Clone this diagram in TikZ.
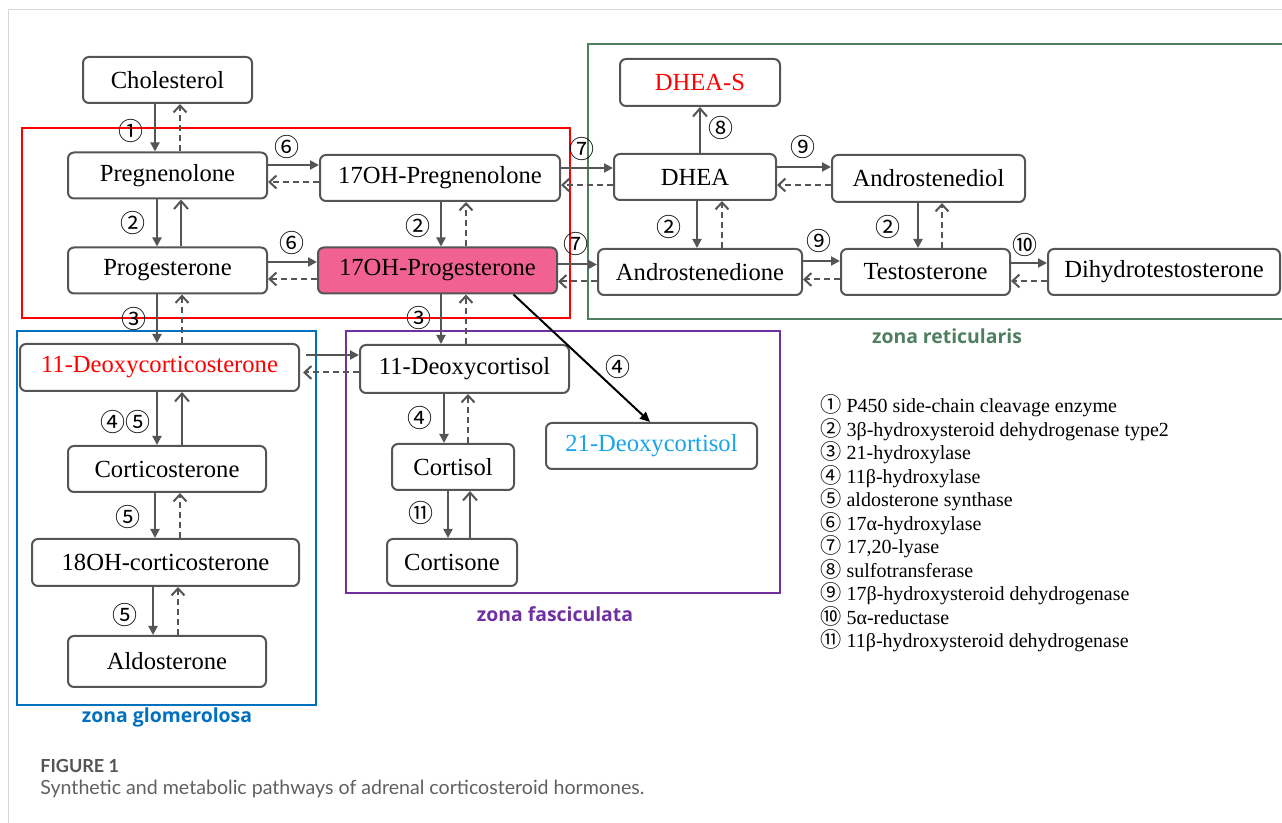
\documentclass[tikz,border=0pt]{standalone}
\usepackage{fontspec}
\setmainfont{Liberation Serif}
\newfontfamily\circfont{Noto Sans CJK KR}
\newfontfamily\capfont{Lato}
\newfontfamily\zonefont{Open Sans}
\usetikzlibrary{positioning,arrows.meta,calc}
\definecolor{boxgray}{RGB}{85,85,85}
\definecolor{arrgray}{RGB}{85,85,85}
\definecolor{pinkfill}{RGB}{241,98,146}
\definecolor{zgreen}{RGB}{78,127,94}
\definecolor{zblue}{RGB}{0,112,192}
\definecolor{zpurple}{RGB}{112,48,160}
\definecolor{dcyan}{RGB}{26,163,232}
\definecolor{capgray}{RGB}{96,96,96}
\definecolor{framegray}{RGB}{215,215,215}
\newcommand{\enzno}[1]{{\circfont\fontsize{10.6}{10}\selectfont #1}}
\tikzstyle{sbox}=[rectangle, rounded corners=3pt, draw=boxgray, line width=1pt, fill=white,
                  minimum height=23pt, inner sep=0pt, text centered, font=\fontsize{12.3}{14}\selectfont]
\tikzstyle{fwd}=[arrgray, line width=1pt, -{Triangle[length=4.5pt,width=4.5pt]}]
\tikzstyle{bck}=[arrgray, line width=1pt, dash pattern=on 3pt off 2pt, -{Straight Barb[length=3.5pt,width=6.5pt]}]
\tikzstyle{rev}=[arrgray, line width=1pt, -{Straight Barb[length=4pt,width=7pt]}]
\tikzstyle{diag}=[black, line width=1pt, -{Triangle[length=5pt,width=4.5pt]}]
\tikzstyle{enz}=[inner sep=0pt, font=\circfont\fontsize{12.5}{12.5}\selectfont]
\tikzstyle{zone}=[line width=1pt]
\tikzstyle{zlabel}=[inner sep=0pt, font=\zonefont\bfseries\fontsize{9.7}{11}\selectfont]
\begin{document}
\begin{tikzpicture}[x=0.5pt, y=-0.5pt]
\useasboundingbox (0,0) rectangle (1282,823);
\draw[framegray, line width=0.5pt] (8,830) -- (8,10) -- (1290,10);

% zones
\draw[red, zone] (22,128) rectangle (570,318);
\draw[zgreen, zone] (588,44) rectangle (1295,319);
\draw[zblue, zone] (17,331) rectangle (316,705);
\draw[zpurple, zone] (346,331) rectangle (780,593);
\node (zret) [zlabel, text=zgreen] at (947,336) {zona reticularis};
\node (zfas) [zlabel, text=zpurple] at (555,614) {zona fasciculata};
\node (zglo) [zlabel, text=zblue] at (167,717) {zona glomerolosa};

% steroids
\node (chol) [sbox, minimum width=84.5pt] at (167.5,80) {Cholesterol};
\node (preg) [sbox, minimum width=99.5pt] at (167.5,175.5) {Pregnenolone};
\node (ohpreg) [sbox, minimum width=120pt] at (440,178) {17OH-Pregnenolone};
\node (prog) [sbox, minimum width=99.5pt] at (167.5,270.5) {Progesterone};
\node (ohprog) [sbox, fill=pinkfill, minimum width=119.5pt] at (437.5,270.5) {17OH-Progesterone};
\node (doc) [sbox, text=red, minimum width=139.5pt, minimum height=23.5pt] at (159.5,367.5) {11-Deoxycorticosterone};
\node (cortico) [sbox, minimum width=99pt] at (167,469) {Corticosterone};
\node (ohcortico) [sbox, minimum width=133.5pt, minimum height=23.5pt] at (165.5,562.5) {18OH-corticosterone};
\node (aldo) [sbox, minimum width=99pt, minimum height=25.5pt] at (167,661.5) {Aldosterone};
\node (deoxycort) [sbox, minimum width=104.5pt, minimum height=24pt] at (464.5,369) {11-Deoxycortisol};
\node (cortisol) [sbox, minimum width=61pt] at (453,467) {Cortisol};
\node (cortisone) [sbox, minimum width=65pt, minimum height=23.5pt] at (452,562.5) {Cortisone};
\node (deoxy21) [sbox, text=dcyan, minimum width=105.5pt] at (651.5,446) {21-Deoxycortisol};
\node (dheas) [sbox, text=red, minimum width=80pt, minimum height=23.5pt] at (700,82.5) {DHEA-S};
\node (dhea) [sbox, minimum width=81pt] at (695,177) {DHEA};
\node (adiol) [sbox, minimum width=96.5pt, minimum height=23.5pt] at (928.5,178.5) {Androstenediol};
\node (adione) [sbox, minimum width=102pt] at (700,272) {Androstenedione};
\node (testo) [sbox, minimum width=84.5pt] at (925.5,272) {Testosterone};
\node (dht) [sbox, minimum width=116pt] at (1164,272) {Dihydrotestosterone};

% vertical steps
\draw[fwd] ([xshift=-6.25pt]chol.south) -- ([xshift=-6.25pt]chol.south |- preg.north);
\draw[bck] ([xshift=6.25pt]chol.south |- preg.north) -- ([xshift=6.25pt]chol.south);
\draw[fwd] ([xshift=-5.25pt]preg.south) -- ([xshift=-5.25pt]preg.south |- prog.north);
\draw[rev] ([xshift=6.75pt]preg.south |- prog.north) -- ([xshift=6.75pt]preg.south);
\draw[fwd] ([xshift=0.5pt]ohpreg.south) -- ([xshift=0.5pt]ohpreg.south |- ohprog.north);
\draw[bck] ([xshift=13pt]ohpreg.south |- ohprog.north) -- ([xshift=13pt]ohpreg.south);
\draw[fwd] ([xshift=-5.25pt]prog.south) -- ([xshift=-5.25pt]prog.south |- doc.north);
\draw[bck] ([xshift=7.25pt]prog.south |- doc.north) -- ([xshift=7.25pt]prog.south);
\draw[fwd] ([xshift=1.75pt]ohprog.south) -- ([xshift=1.75pt]ohprog.south |- deoxycort.north);
\draw[bck] ([xshift=14.25pt]ohprog.south |- deoxycort.north) -- ([xshift=14.25pt]ohprog.south);
\draw[rev] ([xshift=2.5pt]dhea.north) -- ([xshift=2.5pt]dhea.north |- dheas.south);
\draw[fwd] ([xshift=1pt]dhea.south) -- ([xshift=1pt]dhea.south |- adione.north);
\draw[bck] ([xshift=13.5pt]dhea.south |- adione.north) -- ([xshift=13.5pt]dhea.south);
\draw[fwd] ([xshift=-5.25pt]adiol.south) -- ([xshift=-5.25pt]adiol.south |- testo.north);
\draw[bck] ([xshift=6.75pt]adiol.south |- testo.north) -- ([xshift=6.75pt]adiol.south);
\draw[fwd] ([xshift=-1.25pt]doc.south) -- ([xshift=-1.25pt]doc.south |- cortico.north);
\draw[rev] ([xshift=11.25pt]doc.south |- cortico.north) -- ([xshift=11.25pt]doc.south);
\draw[fwd] ([xshift=-6pt]cortico.south) -- ([xshift=-6pt]cortico.south |- ohcortico.north);
\draw[bck] ([xshift=6.5pt]cortico.south |- ohcortico.north) -- ([xshift=6.5pt]cortico.south);
\draw[fwd] ([xshift=-6.25pt]ohcortico.south) -- ([xshift=-6.25pt]ohcortico.south |- aldo.north);
\draw[bck] ([xshift=6.25pt]ohcortico.south |- aldo.north) -- ([xshift=6.25pt]ohcortico.south);
\draw[fwd] ([xshift=-10.25pt]deoxycort.south) -- ([xshift=-10.25pt]deoxycort.south |- cortisol.north);
\draw[bck] ([xshift=1.75pt]deoxycort.south |- cortisol.north) -- ([xshift=1.75pt]deoxycort.south);
\draw[fwd] ([xshift=-2.5pt]cortisol.south) -- ([xshift=-2.5pt]cortisol.south |- cortisone.north);
\draw[rev] ([xshift=8.5pt]cortisol.south |- cortisone.north) -- ([xshift=8.5pt]cortisol.south);

% horizontal steps
\draw[fwd] ([yshift=5.25pt]preg.east) -- ([yshift=5.25pt]preg.east -| ohpreg.west);
\draw[bck] ([yshift=-3.25pt]preg.east -| ohpreg.west) -- ([yshift=-3.25pt]preg.east);
\draw[fwd] ([yshift=4.25pt]prog.east) -- ([yshift=4.25pt]prog.east -| ohprog.west);
\draw[bck] ([yshift=-4.25pt]prog.east -| ohprog.west) -- ([yshift=-4.25pt]prog.east);
\draw[fwd] ([yshift=5pt]ohpreg.east) -- ([yshift=5pt]ohpreg.east -| dhea.west);
\draw[bck] ([yshift=-3.5pt]ohpreg.east -| dhea.west) -- ([yshift=-3.5pt]ohpreg.east);
\draw[fwd] ([yshift=3pt]ohprog.east) -- ([yshift=3pt]ohprog.east -| adione.west);
\draw[bck] ([yshift=-5.5pt]ohprog.east -| adione.west) -- ([yshift=-5.5pt]ohprog.east);
\draw[fwd] ([yshift=5pt]dhea.east) -- ([yshift=5pt]dhea.east -| adiol.west);
\draw[bck] ([yshift=-4pt]dhea.east -| adiol.west) -- ([yshift=-4pt]dhea.east);
\draw[fwd] ([yshift=5.5pt]adione.east) -- ([yshift=5.5pt]adione.east -| testo.west);
\draw[bck] ([yshift=-3.75pt]adione.east -| testo.west) -- ([yshift=-3.75pt]adione.east);
\draw[fwd] ([yshift=4.5pt]testo.east) -- ([yshift=4.5pt]testo.east -| dht.west);
\draw[bck] ([yshift=-4.5pt]testo.east -| dht.west) -- ([yshift=-4.5pt]testo.east);
\draw[fwd] ([shift={(3pt,6.25pt)}]doc.east) -- ([yshift=6.25pt]doc.east -| deoxycort.west);
\draw[bck] ([yshift=-2.5pt]doc.east -| deoxycort.west) -- ([shift={(1.5pt,-2.5pt)}]doc.east);
\draw[diag] ([xshift=38pt]ohprog.south) -- ([xshift=-0.75pt]deoxy21.north);

% enzyme numbers
\node (e1) [enz] at (131,131) {①};
\node (e6a) [enz] at (287,147) {⑥};
\node (e7a) [enz] at (582,149) {⑦};
\node (e2a) [enz] at (133,223) {②};
\node (e6b) [enz] at (292,243) {⑥};
\node (e2b) [enz] at (418,226) {②};
\node (e7b) [enz] at (576,244) {⑦};
\node (e3a) [enz] at (134,319) {③};
\node (e3b) [enz] at (419,318) {③};
\node (e8) [enz] at (721,128) {⑧};
\node (e9a) [enz] at (803,147) {⑨};
\node (e2c) [enz] at (669,227) {②};
\node (e9b) [enz] at (819,241) {⑨};
\node (e2d) [enz] at (888,227) {②};
\node (e10) [enz] at (1025,245) {⑩};
\node (e45) [enz] at (125,422) {④⑤};
\node (e4a) [enz] at (420,418) {④};
\node (e4b) [enz] at (618,367) {④};
\node (e5a) [enz] at (128,517) {⑤};
\node (e11) [enz] at (421,513) {⑪};
\node (e5b) [enz] at (125,615) {⑤};

% legend
\node (leg) [anchor=west, align=left, inner sep=0pt, font=\fontsize{10}{11.75}\selectfont] at (820,523.5) {%
\enzno{①} P450 side-chain cleavage enzyme\\
\enzno{②} 3β-hydroxysteroid dehydrogenase type2\\
\enzno{③} 21-hydroxylase\\
\enzno{④} 11β-hydroxylase\\
\enzno{⑤} aldosterone synthase\\
\enzno{⑥} 17α-hydroxylase\\
\enzno{⑦} 17,20-lyase\\
\enzno{⑧} sulfotransferase\\
\enzno{⑨} 17β-hydroxysteroid dehydrogenase\\
\enzno{⑩} 5α-reductase\\
\enzno{⑪} 11β-hydroxysteroid dehydrogenase};

% caption
\node (figno) [anchor=west, inner sep=0pt, text=boxgray, font=\capfont\bfseries\fontsize{9}{10}\selectfont] at (40,766) {FIGURE 1};
\node (figcap) [anchor=west, inner sep=0pt, text=capgray, font=\capfont\fontsize{9.8}{11}\selectfont] at (40,789) {Synthetic and metabolic pathways of adrenal corticosteroid hormones.};
\end{tikzpicture}
\end{document}
